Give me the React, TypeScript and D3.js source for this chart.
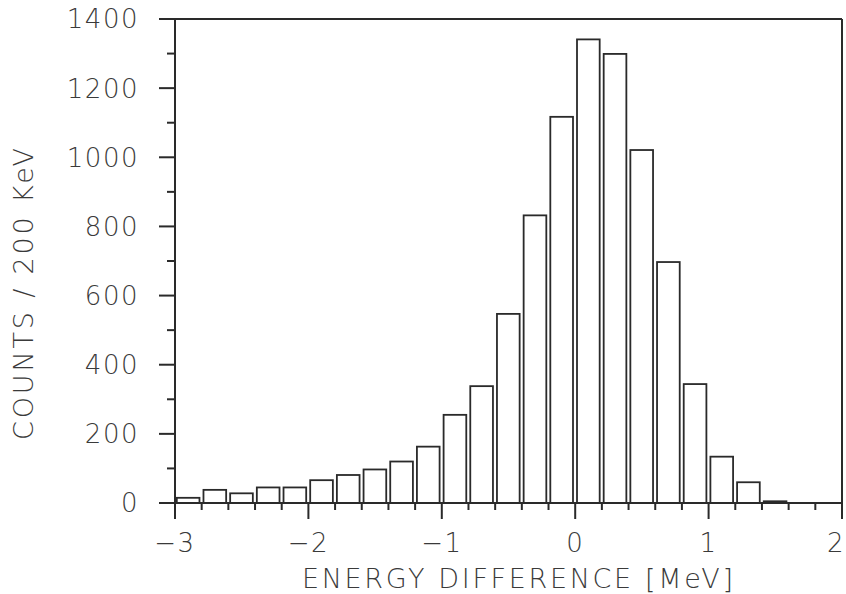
import React, { useEffect, useRef } from 'react';
import * as d3 from 'd3';

// bin lower edges (MeV), 200 keV wide
const binStarts = [
  -3.0, -2.8, -2.6, -2.4, -2.2, -2.0, -1.8, -1.6, -1.4, -1.2, -1.0, -0.8, -0.6,
  -0.4, -0.2, 0.0, 0.2, 0.4, 0.6, 0.8, 1.0, 1.2, 1.4, 1.6, 1.8,
];
const counts = [
  15, 38, 28, 45, 45, 66, 81, 97, 120, 163, 255, 338, 547,
  832, 1117, 1341, 1299, 1021, 697, 344, 134, 60, 5, 0, 0,
];
const xTicks = [-3, -2, -1, 0, 1, 2];
const yTicks = [0, 200, 400, 600, 800, 1000, 1200, 1400];
const xLabel = 'ENERGY DIFFERENCE [MeV]';
const yLabel = 'COUNTS / 200 KeV';

export default function App() {
  const svgRef = useRef<SVGSVGElement | null>(null);

  useEffect(() => {
    if (!svgRef.current) return;
    const svg = d3.select(svgRef.current);
    svg.selectAll('*').remove();

    const binW = 0.2;
    const x = d3.scaleLinear().domain([-3, 2]).range([175, 842]);
    const y = d3.scaleLinear().domain([0, 1400]).range([503, 19]);
    const ink = '#2a2a2a';
    const textInk = '#3a3a3a';
    const font = '"DejaVu Sans", sans-serif';
    const majLen = 16;

    svg.append('rect').attr('width', 846).attr('height', 594).attr('fill', '#fff');

    // bars
    const data = binStarts.map((b, i) => ({ b, v: counts[i] })).filter(d => d.v > 0);
    svg.selectAll('.bar')
      .data(data)
      .join('rect')
      .attr('class', 'bar')
      .attr('x', d => x(d.b) + 1.8)
      .attr('y', d => y(d.v))
      .attr('width', d => x(d.b + binW) - x(d.b) - 4)
      .attr('height', d => y(0) - y(d.v))
      .attr('fill', 'none')
      .attr('stroke', ink)
      .attr('stroke-width', 1.8);

    const g = svg.append('g').attr('stroke', ink).attr('stroke-width', 2).attr('fill', 'none');

    // frame: left, bottom, top, right
    g.append('line').attr('x1', x(-3)).attr('x2', x(-3)).attr('y1', y(1400)).attr('y2', y(0) + majLen);
    g.append('line').attr('x1', x(-3) - majLen).attr('x2', x(2)).attr('y1', y(0)).attr('y2', y(0));
    g.append('line').attr('x1', x(-3) - majLen).attr('x2', x(2)).attr('y1', y(1400)).attr('y2', y(1400));
    g.append('line').attr('x1', x(2)).attr('x2', x(2)).attr('y1', y(1400)).attr('y2', y(0) + majLen);

    // y ticks
    yTicks.forEach(t => {
      g.append('line').attr('x1', x(-3) - majLen).attr('x2', x(-3)).attr('y1', y(t)).attr('y2', y(t));
    });
    d3.range(100, 1400, 200).forEach(t => {
      g.append('line').attr('x1', x(-3) - 8).attr('x2', x(-3)).attr('y1', y(t)).attr('y2', y(t));
    });

    // x ticks
    xTicks.forEach(t => {
      g.append('line').attr('x1', x(t)).attr('x2', x(t)).attr('y1', y(0)).attr('y2', y(0) + majLen);
    });
    binStarts.forEach(b => {
      if (Math.abs(b - Math.round(b)) < 1e-6) return;
      g.append('line').attr('x1', x(b)).attr('x2', x(b)).attr('y1', y(0)).attr('y2', y(0) + 7);
    });

    // tick labels
    svg.selectAll('.ylab')
      .data(yTicks)
      .join('text')
      .attr('class', 'ylab')
      .attr('x', 139)
      .attr('y', d => y(d))
      .attr('dy', '0.36em')
      .attr('text-anchor', 'end')
      .attr('font-family', font)
      .attr('font-weight', 200)
      .attr('font-size', 26)
      .attr('letter-spacing', 1.5)
      .attr('fill', textInk)
      .text(d => String(d));

    svg.selectAll('.xlab')
      .data(xTicks)
      .join('text')
      .attr('class', 'xlab')
      .attr('x', d => (d === 2 ? 845 : x(d)))
      .attr('y', 552)
      .attr('text-anchor', d => (d === 2 ? 'end' : 'middle'))
      .attr('font-family', font)
      .attr('font-weight', 200)
      .attr('font-size', 26)
      .attr('letter-spacing', 1.5)
      .attr('fill', textInk)
      .text(d => (d < 0 ? '\u2212' + Math.abs(d) : String(d)));

    // axis titles
    svg.append('text')
      .attr('x', 302)
      .attr('y', 588)
      .attr('font-family', font)
      .attr('font-weight', 200)
      .attr('font-size', 27)
      .attr('textLength', 431)
      .attr('lengthAdjust', 'spacing')
      .attr('fill', textInk)
      .text(xLabel);

    svg.append('text')
      .attr('transform', 'translate(33,294) rotate(-90)')
      .attr('text-anchor', 'middle')
      .attr('font-family', font)
      .attr('font-weight', 200)
      .attr('font-size', 27)
      .attr('textLength', 292)
      .attr('lengthAdjust', 'spacing')
      .attr('fill', textInk)
      .text(yLabel);
  }, []);

  return (
    <svg
      ref={svgRef}
      width={846}
      height={594}
      viewBox="0 0 846 594"
      style={{ position: 'absolute', left: 0, top: 0 }}
    />
  );
}
